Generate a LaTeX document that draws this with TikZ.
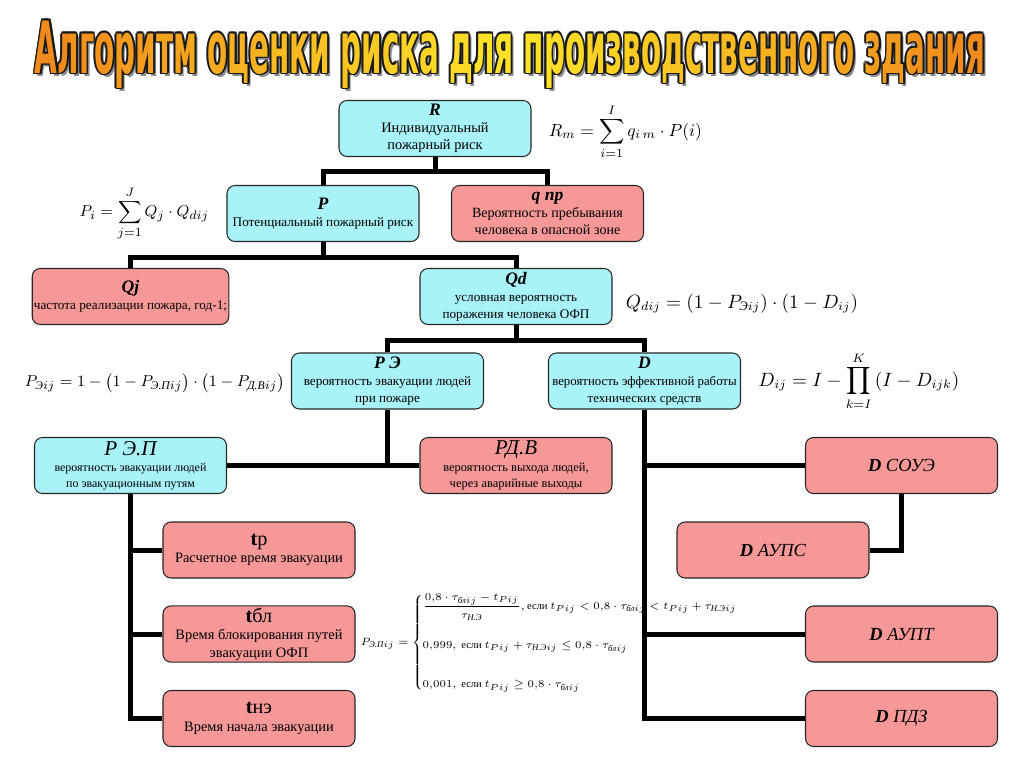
\documentclass[tikz,border=0pt]{standalone}
\usepackage{fontspec}
\usepackage{amsmath}
\setmainfont{Liberation Serif}
\newfontfamily\titlefont{DejaVu Sans}
\usetikzlibrary{positioning}

\definecolor{boxcyan}{RGB}{168,242,248}
\definecolor{boxpink}{RGB}{246,152,152}
\definecolor{titleor}{RGB}{240,138,28}
\definecolor{titleye}{RGB}{255,230,40}

\newcommand{\titletext}{\resizebox{19cm}{1.05cm}{\titlefont\bfseries Алгоритм оценки риска для производственного здания}}
\newcommand{\ruit}[1]{\text{\itshape #1}}
\newcommand{\boxhead}[1]{{\fontsize{10}{11}\selectfont\bfseries\itshape #1}}
\newcommand{\boxbig}[1]{{\fontsize{12}{13}\selectfont\itshape #1}}
\newcommand{\thead}[1]{{\fontsize{11.5}{12}\selectfont\textbf{t}#1}}

\begin{document}
\begin{tikzpicture}[x=0.2mm, y=-0.2mm,
    cbox/.style={draw=black!85, fill=boxcyan, rounded corners=1.6mm, line width=0.6pt,
        minimum width=3.84cm, minimum height=1.12cm, align=center, inner sep=1pt,
        font=\fontsize{7.5}{9.6}\selectfont},
    pbox/.style={cbox, fill=boxpink},
    dbox/.style={pbox, font=\fontsize{10.5}{12}\selectfont\itshape},
    bus/.style={line width=1mm},
    formula/.style={inner sep=0pt, font=\fontsize{10}{12}\selectfont}]
    \useasboundingbox (0,0) rectangle (1024,767);

    % Title
    \node[text=black!45, anchor=base] at (513,76) {\titletext};
    \foreach \dx/\dy in {-1.8/0, 1.8/0, 0/-1.8, 0/1.8, -1.3/-1.3, 1.3/1.3, -1.3/1.3, 1.3/-1.3}{
        \node[text=black!90, anchor=base] at (510+\dx,73+\dy) {\titletext};
    }
    \foreach \i in {0,...,23}{
        \pgfmathsetmacro\xa{30+40*\i}
        \pgfmathsetmacro\xb{70+40*\i}
        \pgfmathtruncatemacro\m{100*abs(\i-11.5)/11.5}
        \begin{scope}
        \clip (\xa,0) rectangle (\xb,100);
        \node[text=titleor!\m!titleye, anchor=base] at (510,73) {\titletext};
        \end{scope}
    }

    % Boxes
    \node[cbox, font=\fontsize{8.2}{9.8}\selectfont] (R) at (435,128.5)
        {\boxhead{R}\\Индивидуальный\\пожарный риск};
    \node[cbox] (P) at (323,213.5) {\boxhead{P}\\Потенциальный пожарный риск};
    \node[pbox, font=\fontsize{8}{9.8}\selectfont] (qnp) at (547.5,213.5)
        {\boxhead{q пр}\\Вероятность пребывания\\человека в опасной зоне};
    \node[pbox] (Qj) at (130.5,296.5) {\boxhead{Qj}\\частота реализации пожара, год-1;};
    \node[cbox] (Qd) at (516,296.5) {\boxhead{Qd}\\условная вероятность\\поражения человека ОФП};
    \node[cbox] (PE) at (387.5,381) {\boxhead{P Э}\\вероятность эвакуации людей\\при пожаре};
    \node[cbox, font=\fontsize{7.3}{9.6}\selectfont] (D) at (644.5,381)
        {\boxhead{D}\\вероятность эффективной работы\\технических средств};
    \node[cbox, font=\fontsize{6.8}{9}\selectfont] (PEP) at (130.5,465.5)
        {\boxbig{P Э.П}\\вероятность эвакуации людей\\по эвакуационным путям};
    \node[pbox, font=\fontsize{7.1}{9.6}\selectfont] (RDV) at (516,465.5)
        {\boxbig{РД.В}\\вероятность выхода людей,\\через аварийные выходы};
    \node[pbox, font=\fontsize{8.2}{10}\selectfont] (tp) at (259,550)
        {\thead{р}\\Расчетное время эвакуации};
    \node[pbox, font=\fontsize{8.2}{10}\selectfont] (tbl) at (259,634)
        {\thead{бл}\\Время блокирования путей\\эвакуации ОФП};
    \node[pbox, font=\fontsize{8.2}{10}\selectfont] (tne) at (259,718.5)
        {\thead{нэ}\\Время начала эвакуации};
    \node[dbox] (Dsoue) at (901.5,465.5) {\textbf{D} СОУЭ};
    \node[dbox] (Daups) at (773,550) {\textbf{D} АУПС};
    \node[dbox] (Daupt) at (901.5,634) {\textbf{D} АУПТ};
    \node[dbox] (Dpdz) at (901.5,718.5) {\textbf{D} ПДЗ};

    % Connectors
    \draw[bus] (R.south) -- (R.south |- 0,171);
    \draw[bus] (P.north) |- (qnp.north |- 0,171) -- (qnp.north);
    \draw[bus] (P.south) -- (P.south |- 0,257);
    \draw[bus] (Qj.north) |- (Qd.north |- 0,257) -- (Qd.north);
    \draw[bus] (Qd.south) -- (Qd.south |- 0,340);
    \draw[bus] (PE.north) |- (D.north |- 0,340) -- (D.north);
    \draw[bus] (PE.south) -- (PE.south |- PEP.east);
    \draw[bus] (PEP.east) -- (RDV.west);
    \draw[bus] (PEP.south) |- (tne.west);
    \draw[bus] (PEP.south |- tp.west) -- (tp.west);
    \draw[bus] (PEP.south |- tbl.west) -- (tbl.west);
    \draw[bus] (D.south) |- (Dpdz.west);
    \draw[bus] (D.south |- Dsoue.west) -- (Dsoue.west);
    \draw[bus] (D.south |- Daupt.west) -- (Daupt.west);
    \draw[bus] (Dsoue.south) |- (Daups.east);

    % Formulas
    \node[formula, right=3.4mm of R, yshift=-0.6mm] (fR)
        {$\displaystyle R_m=\sum_{i=1}^{I} q_{i\,m}\cdot P(i)$};
    \node[formula, left=3.4mm of P, font=\fontsize{9.5}{12}\selectfont] (fP)
        {$\displaystyle P_i=\sum_{j=1}^{J} Q_j\cdot Q_{dij}$};
    \node[formula, right=2.6mm of Qd, yshift=-1.4mm, font=\fontsize{10.5}{12}\selectfont] (fQd)
        {$Q_{dij}=\left(1-P_{\ruit{Э}ij}\right)\cdot\left(1-D_{ij}\right)$};
    \node[formula, left=1.2mm of PE, yshift=-0.4mm, font=\fontsize{9.5}{12}\selectfont] (fPE)
        {$P_{\ruit{Э}ij}=1-\left(1-P_{\ruit{Э.П}ij}\right)\cdot\left(1-P_{\ruit{Д.В}ij}\right)$};
    \node[formula, right=3.4mm of D, font=\fontsize{10.5}{12}\selectfont] (fD)
        {$\displaystyle D_{ij}=I-\prod_{k=I}^{K}\left(I-D_{ijk}\right)$};
    \node[formula, right=1mm of tbl, yshift=-1.8mm, font=\fontsize{6}{7}\selectfont] (fPEP)
        {$P_{\ruit{Э.П}ij}=\begin{cases}
        \dfrac{0{,}8\cdot\tau_{\ruit{бл}ij}-t_{Pij}}{\tau_{\ruit{Н.Э}}},\text{если }
            t_{Pij}<0{,}8\cdot\tau_{\ruit{бл}ij}<t_{Pij}+\tau_{\ruit{Н.Э}ij}\\[14pt]
        0{,}999,\text{ если } t_{Pij}+\tau_{\ruit{Н.Э}ij}\le 0{,}8\cdot\tau_{\ruit{бл}ij}\\[14pt]
        0{,}001,\text{ если } t_{Pij}\ge 0{,}8\cdot\tau_{\ruit{бл}ij}
        \end{cases}$};
\end{tikzpicture}
\end{document}
